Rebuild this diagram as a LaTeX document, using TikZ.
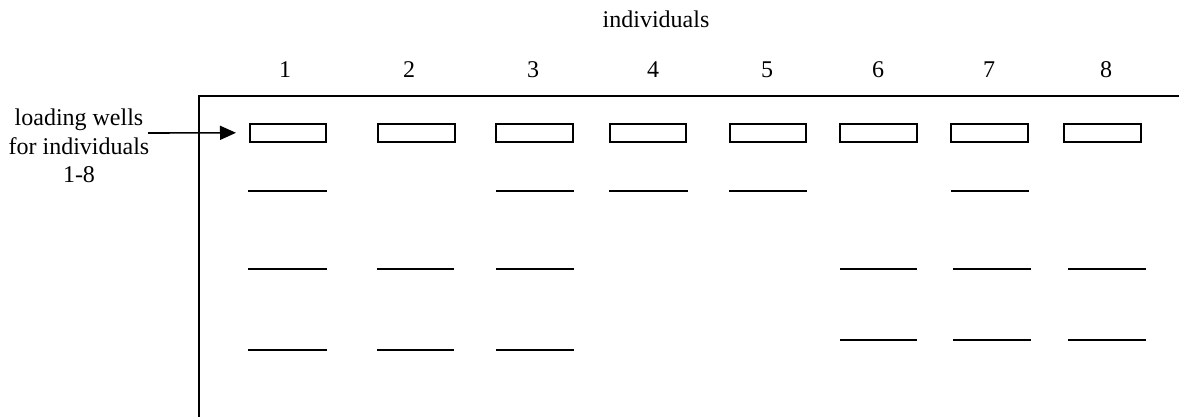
\documentclass[tikz,border=0pt]{standalone}
\usepackage{fontspec}
\setmainfont{Liberation Serif}
\usetikzlibrary{arrows.meta}
\begin{document}
\begin{tikzpicture}[x=1pt,y=-1pt,
  txt/.style={font=\fontsize{24}{28.5}\selectfont, inner sep=0pt},
  well/.style={draw, line width=1.8pt, minimum width=77pt, minimum height=18pt, inner sep=0pt},
  band/.style={line width=2.6pt},
  frame/.style={line width=2.3pt}]
\useasboundingbox (0,0) rectangle (1179,417);
% frame
\draw[frame] (199,417) -- (199,96) -- (1179,96);
% titles
\node[txt, anchor=base] (ind) at (656,28) {individuals};
\foreach \n/\x in {1/285,2/409,3/533,4/653,5/767,6/878,7/989,8/1106}
  \node[txt, anchor=base] (num\n) at (\x,78) {\n};
% wells
\foreach \n/\a/\b in {1/249/327,2/377/456,3/495/574,4/609/687,5/729/807,6/839/918,7/950/1029,8/1063/1142}
  \node[well, minimum width={\b-\a-1.8}] (w\n) at ({(\a+\b)/2},132.8) {};
% label and arrow
\node[txt, align=center, anchor=north] (lbl) at (79,109) {loading wells\\for individuals\\1-8};
\draw[line width=1.6pt, -{Triangle[length=16pt,width=14pt]}] (148,133) -- ([xshift=-13pt]w1.west);
% bands
\foreach \a/\b/\y in {248/327/191, 496/574/191, 609/688/191, 729/807/191, 951/1029/191,
  248/327/269, 377/454/269, 496/574/269, 840/917/269, 953/1031/269, 1068/1146/269,
  248/327/350, 377/454/350, 496/574/350, 840/917/340, 953/1031/340, 1068/1146/340}
  \draw[band] (\a,\y) -- (\b,\y);
\end{tikzpicture}
\end{document}
